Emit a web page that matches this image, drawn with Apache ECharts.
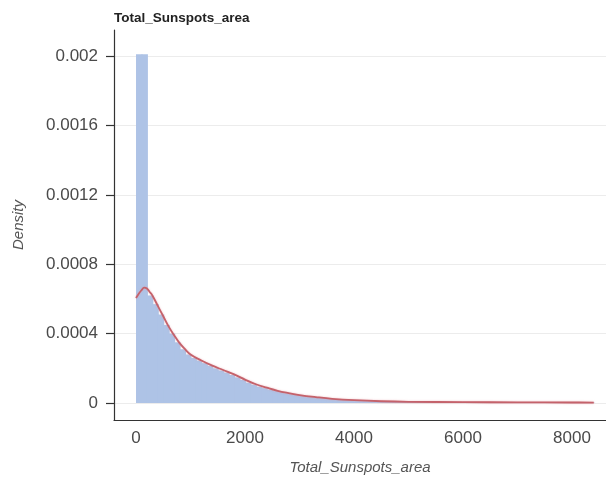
<!DOCTYPE html>
<html>
<head>
<meta charset="utf-8">
<script src="https://cdn.jsdelivr.net/npm/echarts@6/dist/echarts.min.js"></script>
<style>
  html, body { margin: 0; padding: 0; background: #ffffff; }
  #chart { width: 606px; height: 484px; }
</style>
</head>
<body>
<div id="chart"></div>
<script>
// Histogram of Total_Sunspots_area (density), bins of width 100 starting at 0
const binWidth = 100;
const binDensity = [
  0.00201, 0.00201, 0.00062, 0.00057, 0.00051, 0.00045, 0.0004, 0.00035, 0.00031, 0.00028,
  0.00026, 0.000245, 0.00023, 0.000215, 0.0002, 0.000188, 0.000176, 0.000162, 0.000148, 0.000133,
  0.000118, 0.000106, 0.000095, 0.000086, 0.000078, 0.00007, 0.000063, 0.000057, 0.000051, 0.000046,
  0.000042, 0.000038, 0.000035, 0.000032, 0.000029, 0.000026, 0.000023, 0.000021, 0.000019, 0.000017,
  0.000016, 0.000015, 0.000014, 0.000013, 0.000012, 0.000011, 0.00001, 0.0000095, 0.000009, 0.0000085,
  0.000008, 0.0000075, 0.000007, 0.0000068, 0.0000065, 0.000006, 0.0000058, 0.0000055, 0.0000052, 0.000005,
  0.000005, 0.0000048, 0.0000046, 0.0000045, 0.0000044, 0.0000043, 0.0000042, 0.0000041, 0.000004, 0.000004,
  0.0000038, 0.0000037, 0.0000036, 0.0000035, 0.0000034, 0.0000033, 0.0000032, 0.0000031, 0.000003, 0.000003,
  0.0000028, 0.0000026, 0.0000024, 0.0000022
];

// Kernel density estimate
const kdeX = [0, 50, 100, 150, 200, 250, 300, 400, 500, 600, 700, 800, 900, 1000,
  1200, 1400, 1600, 1800, 2000, 2200, 2400, 2600, 2800, 3000, 3300, 3600, 4000,
  4500, 5000, 6000, 7000, 8000, 8400];
const kdeY = [0.000605, 0.00063, 0.00065, 0.000665, 0.00066, 0.00064, 0.00062, 0.00056, 0.0005, 0.00044,
  0.00039, 0.000345, 0.00031, 0.00028, 0.000245, 0.000215, 0.00019, 0.000165, 0.000135, 0.000108,
  0.000088, 0.00007, 0.000057, 0.000046, 0.000034, 0.000024, 0.000016, 0.00001, 0.000007,
  0.000005, 0.000004, 0.000003, 0.000002];

const xTicks = [0, 2000, 4000, 6000, 8000];
const yTicks = [0, 0.0004, 0.0008, 0.0012, 0.0016, 0.002];

const chart = echarts.init(document.getElementById('chart'));

const histData = binDensity.map((d, i) => [i * binWidth, (i + 1) * binWidth, d]);
const kdeData = kdeX.map((x, i) => [x, kdeY[i]]);

const fontFamily = 'Liberation Sans, Arial, sans-serif';

chart.setOption({
  animation: false,
  title: {
    text: 'Total_Sunspots_area',
    left: 109, top: 6,
    textStyle: { fontSize: 13.5, fontWeight: 'bold', color: '#222', fontFamily }
  },
  grid: { left: 114, right: 0, top: 30, bottom: 64 },
  xAxis: {
    type: 'value',
    min: -404, max: 8624,
    name: 'Total_Sunspots_area',
    nameLocation: 'middle',
    nameGap: 40,
    nameTextStyle: { fontStyle: 'italic', fontSize: 15, color: '#555', fontFamily },
    axisLine: { onZero: false, lineStyle: { color: '#333', width: 1.2 } },
    axisTick: { show: false, customValues: xTicks },
    axisLabel: {
      customValues: xTicks, margin: 10, fontSize: 17, color: '#4a4a4a', fontFamily,
      formatter: v => String(v)
    },
    splitLine: { show: false }
  },
  yAxis: {
    type: 'value',
    min: -0.000098, max: 0.00215,
    name: 'Density',
    nameLocation: 'middle',
    nameGap: 88,
    nameTextStyle: { fontStyle: 'italic', fontSize: 15, color: '#555', fontFamily },
    axisLine: { show: true, onZero: false, lineStyle: { color: '#333', width: 1.2 } },
    axisTick: { show: true, customValues: yTicks, length: 8, lineStyle: { color: '#333', width: 1.2 } },
    axisLabel: {
      customValues: yTicks, margin: 16, fontSize: 17, color: '#4a4a4a', fontFamily,
      formatter: v => String(+v.toFixed(6))
    },
    splitLine: { show: true, lineStyle: { color: '#ececec', width: 1 } }
  },
  series: [
    {
      type: 'custom',
      data: histData,
      encode: { x: [0, 1], y: 2 },
      clip: true,
      renderItem: (params, api) => {
        const p0 = api.coord([api.value(0), api.value(2)]);
        const p1 = api.coord([api.value(1), 0]);
        return {
          type: 'rect',
          shape: { x: p0[0], y: p0[1], width: p1[0] - p0[0] + 1, height: p1[1] - p0[1] },
          style: { fill: '#aec3e6' }
        };
      },
      z: 1
    },
    {
      type: 'line',
      data: kdeData,
      smooth: 0.4,
      symbol: 'none',
      lineStyle: { color: '#c4626b', width: 1.8, shadowColor: 'rgba(230,150,160,0.6)', shadowBlur: 2 },
      z: 3
    }
  ]
});
</script>
</body>
</html>
